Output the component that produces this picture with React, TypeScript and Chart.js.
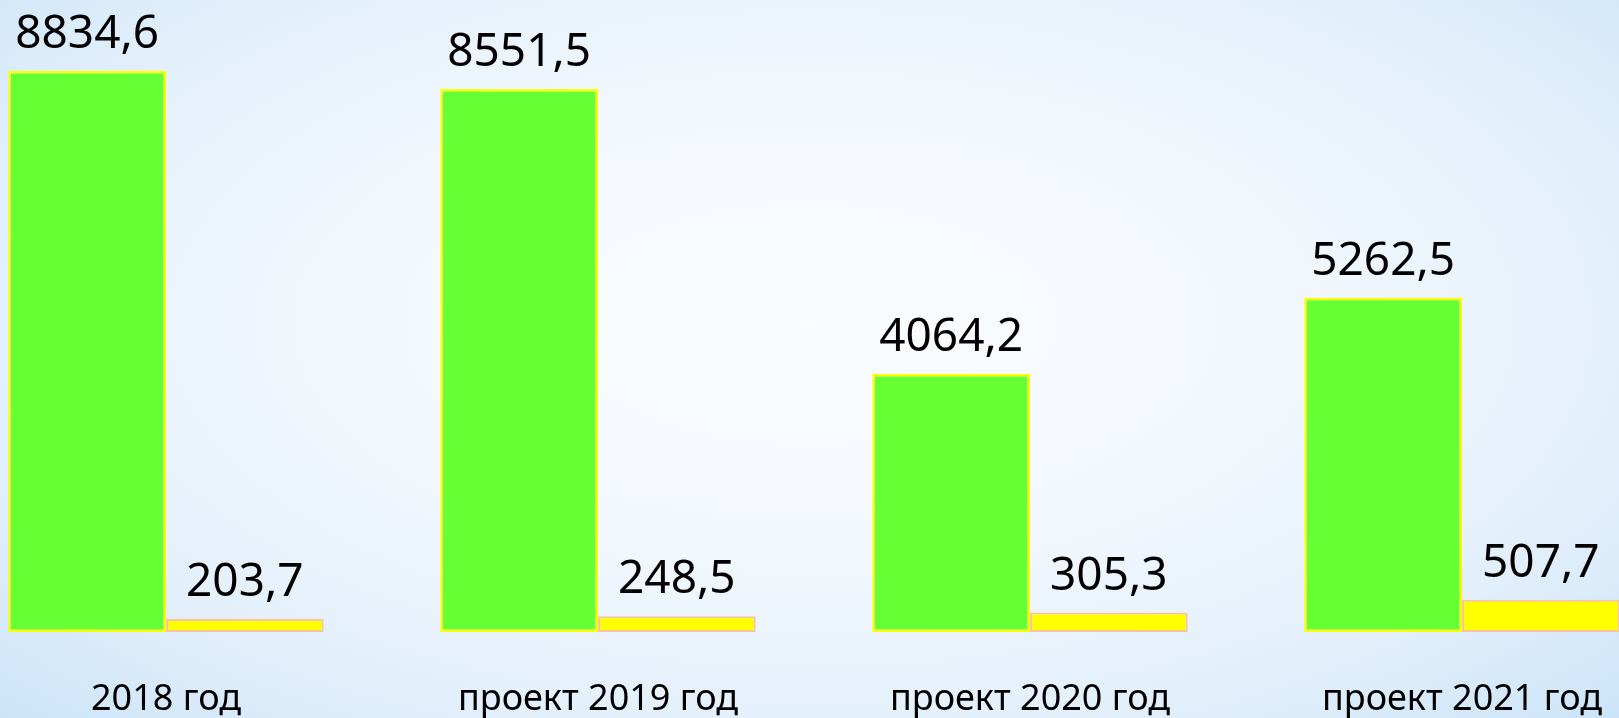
import React, { useEffect, useRef } from "react";
import { Chart, registerables } from "chart.js";

Chart.register(...registerables);

const categories = ["2018 год", "проект 2019 год", "проект 2020 год", "проект 2021 год"];
const seriesGreen = [8834.6, 8551.5, 4064.2, 5262.5];
const seriesYellow = [203.7, 248.5, 305.3, 507.7];

const FONT = "'Noto Sans', 'Open Sans', sans-serif";

const valueLabels = {
  id: "valueLabels",
  afterDatasetsDraw(chart: any) {
    const ctx = chart.ctx;
    ctx.save();
    ctx.fillStyle = "#000000";
    ctx.font = `46px ${FONT}`;
    ctx.textAlign = "center";
    ctx.textBaseline = "alphabetic";
    chart.data.datasets.forEach((ds: any, di: number) => {
      const meta = chart.getDatasetMeta(di);
      meta.data.forEach((bar: any, i: number) => {
        const v = ds.data[i] as number;
        const txt = v.toFixed(1).replace(".", ",");
        ctx.fillText(txt, bar.x, bar.y - 23);
      });
    });
    ctx.restore();
  },
};

export default function App() {
  const ref = useRef<HTMLCanvasElement | null>(null);

  useEffect(() => {
    if (!ref.current) return;
    const chart = new Chart(ref.current, {
      type: "bar",
      data: {
        labels: categories,
        datasets: [
          {
            label: "Ряд 1",
            data: seriesGreen,
            backgroundColor: "#66FF33",
            borderColor: "#FFFF00",
            borderWidth: 2.5,
            borderSkipped: false,
          },
          {
            label: "Ряд 2",
            data: seriesYellow,
            backgroundColor: "#FFFF00",
            borderColor: "#F8C4A4",
            borderWidth: 2,
            borderSkipped: false,
          },
        ],
      },
      options: {
        animation: false,
        responsive: false,
        maintainAspectRatio: false,
        layout: { padding: { top: 28.7, left: 0, right: 0, bottom: 0 } },
        plugins: {
          legend: { display: false },
          tooltip: { enabled: false },
        },
        datasets: {
          bar: { categoryPercentage: 0.73, barPercentage: 1.0 },
        },
        scales: {
          x: {
            offset: true,
            grid: { display: false, drawTicks: false },
            border: { display: false },
            ticks: {
              color: "#000000",
              font: { family: FONT, size: 36 },
              padding: 46,
              maxRotation: 0,
              autoSkip: false,
            },
            afterFit: (scale: any) => {
              scale.height = 86;
            },
          },
          y: {
            display: false,
            min: 0,
            max: 9500,
          },
        },
      },
      plugins: [valueLabels],
    });
    return () => chart.destroy();
  }, []);

  return (
    <div
      style={{
        position: "fixed",
        left: 0,
        top: 0,
        width: 1619,
        height: 718,
        overflow: "hidden",
        background:
          "radial-gradient(ellipse at 50% 45%, #FAFCFE 0%, #F3F8FD 40%, #E2EFFB 75%, #CCE4F9 100%)",
      }}
    >
      <div style={{ position: "absolute", left: -50, top: 0, width: 1728, height: 718 }}>
        <canvas ref={ref} width={1728} height={718} style={{ display: "block" }} />
      </div>
    </div>
  );
}
